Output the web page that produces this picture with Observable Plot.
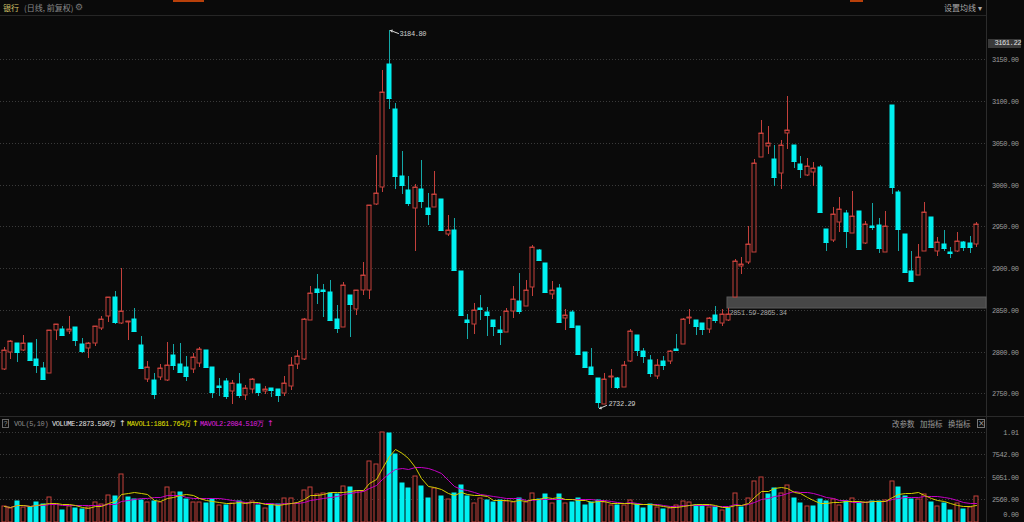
<!DOCTYPE html>
<html><head><meta charset="utf-8">
<script src="https://cdn.jsdelivr.net/npm/d3@7"></script>
<script src="https://cdn.jsdelivr.net/npm/@observablehq/plot@0.6"></script>
<style>
html,body{margin:0;padding:0;background:#0a0a0a;overflow:hidden}
#wrap{position:relative;width:1024px;height:522px;background:#0a0a0a;overflow:hidden;font-family:"Liberation Mono","DejaVu Sans Mono",monospace}
.a{position:absolute;white-space:nowrap;line-height:1}
.cjk{font-family:"Noto Sans CJK SC","Noto Sans",sans-serif}
.mono{font-family:"Liberation Mono","DejaVu Sans Mono",monospace;font-size:7px;letter-spacing:-0.4px}
svg{display:block}
</style></head>
<body><div id="wrap"></div>
<script>
// ---------------- data ----------------
const titleName = "银行";
const titleSub = "(日线, 前复权)";
const open = [2778.9,2800.0,2810.7,2801.5,2810.7,2791.6,2780.1,2774.5,2826.2,2826.9,
2824.6,2829.3,2808.7,2803.9,2810.7,2828.5,2842.4,2865.9,2834.5,2834.9,
2839.3,2808.3,2767.4,2766.2,2769.4,2765.8,2795.6,2785.3,2781.3,2779.3,
2786.5,2802.3,2781.7,2759.1,2764.6,2752.3,2760.9,2747.4,2755.1,2761.1,
2752.8,2755.9,2754.7,2750.0,2759.1,2784.5,2790.9,2838.0,2874.8,2873.2,
2871.2,2838.4,2829.2,2868.0,2850.4,2874.0,2873.2,2977.2,2997.2,3144.4,
3090.8,3010.8,2994.0,2972.4,2994.8,2972.0,2973.2,2983.2,2941.2,2945.2,
2896.4,2837.2,2833.2,2851.6,2846.8,2837.2,2825.8,2823.8,2848.4,2860.7,
2854.3,2877.0,2921.8,2906.0,2869.0,2875.8,2840.5,2846.8,2830.1,2799.6,
2781.7,2768.6,2736.8,2769.0,2768.6,2757.9,2788.4,2819.8,2800.7,2790.4,
2770.6,2789.2,2788.8,2803.1,2809.5,2840.1,2837.3,2833.7,2827.0,2843.2,
2834.5,2838.0,2865.34,2902.0,2906.8,2918.8,3032.8,3046.0,3030.8,3013.6,
3062.0,3046.8,3024.8,3011.6,3014.8,3020.8,2946.4,2933.6,2955.6,2965.6,
2941.6,2968.0,2930.0,2950.8,2951.6,2918.8,3094.8,2991.6,2940.8,2896.8,
2892.0,2920.8,2961.6,2920.8,2928.8,2919.2,2920.8,2930.8,2930.0,2928.8];
const high = [2805.5,2814.2,2810.7,2819.4,2810.7,2814.6,2787.6,2826.2,2833.3,2830.1,
2842.0,2829.3,2815.8,2811.0,2830.9,2842.8,2865.5,2873.0,2900.0,2836.1,
2852.4,2818.2,2788.4,2773.8,2785.3,2811.1,2808.7,2810.7,2795.2,2798.0,
2805.9,2802.3,2781.7,2768.2,2768.6,2765.8,2773.8,2759.5,2767.9,2761.1,
2759.1,2756.7,2754.7,2770.2,2792.9,2801.6,2840.0,2878.8,2893.2,2881.2,
2885.2,2855.2,2882.8,2868.0,2874.0,2907.6,2976.0,3035.2,3137.2,3184.80,
3097.2,3040.0,3010.4,3000.4,3030.0,2990.0,3016.0,2983.2,2964.0,2960.4,
2896.4,2844.4,2858.0,2868.0,2853.2,2837.2,2842.8,2852.4,2879.0,2893.6,
2885.7,2927.8,2923.4,2906.0,2884.9,2880.9,2851.2,2849.2,2830.1,2799.6,
2804.7,2768.6,2773.8,2778.5,2769.8,2788.8,2826.6,2819.8,2803.9,2795.6,
2790.8,2794.4,2801.5,2821.4,2840.1,2850.4,2837.3,2833.7,2841.2,2855.1,
2851.2,2851.59,2910.8,2912.8,2950.8,3030.8,3077.6,3069.6,3046.8,3053.6,
3105.6,3046.8,3034.8,3032.0,3026.8,3024.0,2946.4,2972.8,2985.6,2969.6,
2992.8,2968.0,2956.8,2977.6,2959.6,2968.8,3094.8,2994.0,2940.8,2920.8,
2928.8,2979.6,2961.6,2936.8,2945.6,2924.8,2943.6,2932.0,2938.8,2954.8];
const low = [2777.7,2791.0,2786.9,2801.0,2788.8,2773.8,2767.4,2774.5,2814.2,2819.0,
2821.4,2806.3,2798.4,2792.8,2806.3,2825.4,2835.7,2832.5,2832.5,2813.5,
2824.6,2780.5,2763.8,2742.8,2765.8,2764.6,2777.7,2773.8,2765.0,2773.8,
2781.7,2780.9,2744.8,2746.8,2743.6,2737.2,2743.8,2742.0,2750.8,2747.2,
2748.8,2746.0,2739.3,2746.8,2754.0,2778.6,2789.7,2838.0,2857.2,2841.2,
2838.0,2822.0,2829.2,2817.2,2843.2,2867.2,2863.2,2976.0,2991.2,3090.0,
2995.2,2989.2,2974.4,2920.4,2972.0,2951.2,2973.2,2944.4,2938.0,2898.0,
2843.2,2815.2,2821.2,2837.2,2819.2,2819.2,2807.5,2823.8,2840.5,2844.4,
2854.3,2866.3,2907.9,2869.8,2863.1,2834.9,2825.4,2829.3,2796.8,2780.9,
2773.0,2732.29,2736.8,2756.7,2755.5,2757.9,2786.9,2794.4,2785.7,2769.8,
2767.4,2777.7,2784.9,2801.9,2809.5,2832.5,2819.4,2819.4,2822.2,2834.1,
2830.1,2836.8,2865.34,2892.8,2904.8,2918.8,3032.8,3036.8,2998.0,2994.8,
3042.8,3020.0,3007.6,3010.8,2998.8,2966.8,2920.0,2930.8,2942.8,2924.0,
2941.6,2922.8,2928.8,2945.6,2917.6,2918.8,2988.8,2920.8,2895.6,2884.0,
2892.0,2920.8,2924.0,2914.8,2920.8,2912.0,2919.6,2920.8,2917.6,2924.8];
const close = [2801.5,2812.3,2799.6,2810.7,2790.4,2783.7,2767.4,2826.2,2833.3,2819.8,
2827.3,2814.2,2800.7,2810.3,2830.9,2838.9,2865.5,2834.9,2848.8,2836.1,
2824.6,2780.5,2781.7,2749.1,2779.7,2783.7,2784.1,2775.3,2771.0,2793.6,
2802.7,2781.3,2751.5,2757.9,2746.8,2762.6,2747.4,2756.1,2766.7,2751.6,
2755.1,2753.6,2748.4,2761.9,2783.3,2794.4,2839.2,2870.0,2871.2,2872.0,
2838.0,2828.4,2879.2,2857.2,2873.2,2892.0,2976.0,2990.0,3111.2,3103.2,
3010.8,3000.0,2978.0,2997.2,2980.4,2964.8,2988.4,2945.2,2945.2,2898.0,
2843.2,2834.8,2850.0,2850.4,2843.2,2830.8,2823.8,2848.4,2863.5,2848.8,
2873.8,2925.4,2909.9,2871.0,2873.8,2834.9,2843.2,2829.3,2797.6,2780.9,
2773.0,2739.2,2766.6,2770.6,2757.9,2783.3,2824.2,2801.5,2794.8,2773.8,
2784.1,2783.7,2800.7,2801.9,2839.3,2841.2,2830.9,2827.0,2840.5,2837.3,
2845.2,2844.8,2908.0,2904.8,2928.8,3025.6,3062.0,3050.0,3008.8,3046.8,
3064.8,3028.0,3018.4,3022.8,3020.0,2966.8,2930.8,2964.8,2970.8,2944.8,
2962.4,2922.8,2952.8,2948.8,2924.0,2950.4,2996.8,2946.8,2895.6,2884.8,
2913.6,2967.6,2924.8,2931.6,2924.0,2918.0,2932.8,2924.8,2924.8,2952.8];
// volume in 万
const volume = [1736,1548,2262,1660,1660,2149,1923,2712,1923,1285,
1736,1548,1435,1660,2149,1923,2975,2863,5304,2750,
2487,2412,2224,2299,2224,3840,3276,3351,2524,2149,
2149,2111,2524,1848,1848,2111,2336,2111,2299,1848,
1473,1923,1923,2600,2600,2036,3539,3877,3051,3163,
3163,3088,4027,3877,3426,3426,6807,6432,10038,9963,
7559,4290,3727,5154,3990,2675,3801,2863,2524,3238,
4102,2900,2036,2675,2412,2224,2450,2299,2149,2675,
2149,3163,2524,3088,2036,3088,2036,2224,2600,1848,
2149,2412,2224,1848,1848,1848,2412,1961,1473,1961,
1623,1397,1548,1848,2299,2149,1848,1848,1623,1660,
1285,1473,3163,1660,2600,4590,4967,3051,3801,3163,
4102,2675,2036,1698,1698,2524,2299,2524,1848,2299,
2600,2224,2224,2299,2299,2412,4553,3914,2863,2524,
2524,3101,2139.28,1736,2036,1322,2056.23,1397,1660,2873.59];
const priceTicks = [2750,2800,2850,2900,2950,3000,3050,3100,3150];
const volTicks = [2560,5051,7542,10033];
const volTickLabels = ["2560.00","5051.00","7542.00","1.01"];
const volZeroLabel = "0.00";
const gap = {i:111, lo:2851.59, hi:2865.34};
const currentPrice = 3161.22;
const maPeriods = [5,10];

// ---------------- styles ----------------
const BG="#0a0a0a", RED="#c4403b", CYAN="#00f0f0", CYANW="#14a8a8", GRID="#3a3a3a";
const YEL="#d2cc00", MAG="#c400c4";

// ---------------- derived ----------------
const N = close.length;
const ma = (p,i)=>d3.mean(volume.slice(Math.max(0,i-p+1), i+1));
const bars = d3.range(N).map(i=>({i,o:open[i],h:high[i],l:low[i],c:close[i],v:volume[i],
  up: close[i]>=open[i], vup: i===0 ? close[i]>=open[i] : close[i]>=close[i-1],
  ma5: ma(maPeriods[0],i), ma10: ma(maPeriods[1],i)}));
const up = bars.filter(d=>d.up), dn = bars.filter(d=>!d.up);
const vUp = bars.filter(d=>d.vup), vDn = bars.filter(d=>!d.vup);
const maxBar = bars[d3.maxIndex(bars,d=>d.h)];
const minBar = bars[d3.minIndex(bars,d=>d.l)];
const xDomain = [-0.54, N+0.46];
const pxPer = 399/(3201.9-2724.0);
const fontStyle = {background:"transparent", color:"#9c9c9c", fontFamily:"Liberation Mono, DejaVu Sans Mono, monospace", fontSize:"7px", letterSpacing:"-0.4px", overflow:"visible"};

const wrap = document.getElementById("wrap");
function el(html, css){const d=document.createElement("div");d.className="a";d.innerHTML=html;Object.assign(d.style,css);wrap.appendChild(d);return d;}

// chrome lines
el("",{left:"173px",top:"0",width:"31px",height:"2px",background:"#b8400a"});
el("",{left:"850px",top:"0",width:"13px",height:"2px",background:"#b8400a"});
el("",{left:"0",top:"15px",width:"986px",height:"1px",background:"#262626"});
el("",{left:"0",top:"416px",width:"1024px",height:"1px",background:"#2a2a2a"});
el("",{left:"986px",top:"0",width:"1px",height:"522px",background:"#2c2c2c"});

// header
el(`<span style="color:#d4c46a">${titleName}</span><span style="color:#8a8a8a;margin-left:5px">${titleSub}</span>`,
  {left:"3px",top:"4px",fontSize:"8px"}).classList.add("cjk");
el("⚙",{left:"75px",top:"3px",fontSize:"9px",color:"#777",fontFamily:"DejaVu Sans"});
el("设置均线 ▾",{left:"944px",top:"4px",fontSize:"8px",color:"#a8a8a8"}).classList.add("cjk");

// ---------------- price chart ----------------
const price = Plot.plot({
  width:1024, height:399, marginLeft:0, marginRight:38, marginTop:0, marginBottom:0,
  style: fontStyle,
  x:{domain:xDomain, axis:null, round:true},
  y:{domain:[2724.0,3201.9], round:true, axis:null},
  marks:[
    Plot.gridY(priceTicks,{stroke:GRID, strokeOpacity:1, strokeDasharray:"1,2"}),
    Plot.axisY(priceTicks,{anchor:"right", tickSize:0, tickPadding:32, textAnchor:"end", tickFormat:d=>d.toFixed(2), fill:"#9c9c9c", label:null}),
    Plot.rect([gap],{x1:d=>d.i-0.2, x2:()=>xDomain[1], y1:"lo", y2:"hi", fill:"#474747", stroke:"#5a5a5a"}),
    Plot.text([gap],{x:"i", y:"lo", text:d=>`${d.lo.toFixed(2)}-${d.hi.toFixed(2)}`, textAnchor:"start", dx:1, dy:4, fill:"#a8a8a8"}),
    Plot.ruleX(up,{x:"i", y1:"l", y2:"h", stroke:RED}),
    Plot.ruleX(dn,{x:"i", y1:"l", y2:"h", stroke:CYANW}),
    Plot.rect(up,{x1:"i", x2:"i", insetLeft:-2, insetRight:-2, y1:"o", y2:"c", fill:BG, stroke:RED}),
    Plot.rect(dn,{x1:"i", x2:"i", insetLeft:-2, insetRight:-2, y1:"o", y2:"c", fill:CYAN, stroke:CYAN}),
    Plot.ruleY(up,{y:"c", x1:"i", x2:"i", insetLeft:-2.5, insetRight:-2.5, stroke:RED}),
    Plot.ruleY(dn,{y:"c", x1:"i", x2:"i", insetLeft:-2.5, insetRight:-2.5, stroke:CYAN}),
    Plot.arrow([maxBar],{x1:d=>d.i+1.4, y1:d=>d.h-3/pxPer, x2:d=>d.i+0.2, y2:"h", stroke:"#d8d8d8", headLength:3, strokeWidth:1}),
    Plot.text([maxBar],{x:d=>d.i+1.5, y:"h", text:d=>d.h.toFixed(2), textAnchor:"start", dy:3, fill:"#d0d0d0"}),
    Plot.arrow([minBar],{x1:d=>d.i+1.3, y1:d=>d.l+3/pxPer, x2:d=>d.i+0.2, y2:"l", stroke:"#d8d8d8", headLength:3, strokeWidth:1}),
    Plot.text([minBar],{x:d=>d.i+1.5, y:"l", text:d=>d.l.toFixed(2), textAnchor:"start", dy:-5, fill:"#d0d0d0"})
  ]
});
Object.assign(price.style,{position:"absolute",left:"0",top:"16px"});
wrap.appendChild(price);

// current price box
el(currentPrice.toFixed(2),{left:"988px",top:"39px",width:"33px",height:"9px",background:"#3a3a3a",color:"#e0e0e0",textAlign:"right",paddingTop:"1px",boxSizing:"border-box"}).classList.add("mono");

// ---------------- volume header ----------------
const last = bars[N-1];
const fmt = v=>v.toFixed(3);
el("?",{left:"2px",top:"419px",width:"7px",height:"9px",border:"1px solid #6a6a6a",color:"#8a8a8a",fontSize:"7px",textAlign:"center",boxSizing:"border-box",lineHeight:"8px"});
el(`VOL(${maPeriods[0]},${maPeriods[1]})`,{left:"14px",top:"421px",color:"#8c8c8c"}).classList.add("mono");
el(`VOLUME:${fmt(last.v)}万`,{left:"52px",top:"421px",color:"#e6e6e6"}).classList.add("mono");
el("↑",{left:"119px",top:"420px",color:"#e6e6e6",fontSize:"8px",fontFamily:"DejaVu Sans"});
el(`MAVOL1:${fmt(last.ma5)}万`,{left:"127px",top:"421px",color:"#e4e400"}).classList.add("mono");
el("↑",{left:"192px",top:"420px",color:"#e4e400",fontSize:"8px",fontFamily:"DejaVu Sans"});
el(`MAVOL2:${fmt(last.ma10)}万`,{left:"200px",top:"421px",color:"#e020e0"}).classList.add("mono");
el("↑",{left:"267px",top:"420px",color:"#e020e0",fontSize:"8px",fontFamily:"DejaVu Sans"});
el("改参数",{left:"892px",top:"420px",fontSize:"7.5px",color:"#9a9a9a"}).classList.add("cjk");
el("加指标",{left:"920px",top:"420px",fontSize:"7.5px",color:"#9a9a9a"}).classList.add("cjk");
el("换指标",{left:"948px",top:"420px",fontSize:"7.5px",color:"#9a9a9a"}).classList.add("cjk");
el("×",{left:"977px",top:"419px",width:"8px",height:"9px",border:"1px solid #777",color:"#999",fontSize:"8px",textAlign:"center",boxSizing:"border-box",lineHeight:"7px",fontFamily:"DejaVu Sans"});

// ---------------- volume chart ----------------
const volDomain = [-67.6, 10188];
const vol = Plot.plot({
  width:1024, height:91, marginLeft:0, marginRight:38, marginTop:0, marginBottom:0,
  style: fontStyle,
  x:{domain:xDomain, axis:null, round:true},
  y:{domain:volDomain, round:true, axis:null},
  marks:[
    Plot.gridY(volTicks,{stroke:GRID, strokeOpacity:1, strokeDasharray:"1,2"}),
    Plot.axisY(volTicks,{anchor:"right", tickSize:0, tickPadding:32, textAnchor:"end", tickFormat:d=>volTickLabels[volTicks.indexOf(d)], fill:"#9c9c9c", label:null}),
    Plot.text([volZeroLabel],{frameAnchor:"bottom-right", text:d=>d, dx:32, dy:-6, textAnchor:"end", fill:"#9c9c9c"}),
    Plot.rect(vUp,{x1:"i", x2:"i", insetLeft:-2, insetRight:-2, y1:()=>volDomain[0], y2:"v", fill:BG, stroke:RED}),
    Plot.rect(vDn,{x1:"i", x2:"i", insetLeft:-2, insetRight:-2, y1:()=>volDomain[0], y2:"v", fill:CYAN, stroke:CYAN}),
    Plot.line(bars,{x:"i", y:"ma10", stroke:MAG, strokeWidth:1}),
    Plot.line(bars,{x:"i", y:"ma5", stroke:YEL, strokeWidth:1})
  ]
});
Object.assign(vol.style,{position:"absolute",left:"0",top:"431px"});
wrap.appendChild(vol);
</script>
</body></html>
